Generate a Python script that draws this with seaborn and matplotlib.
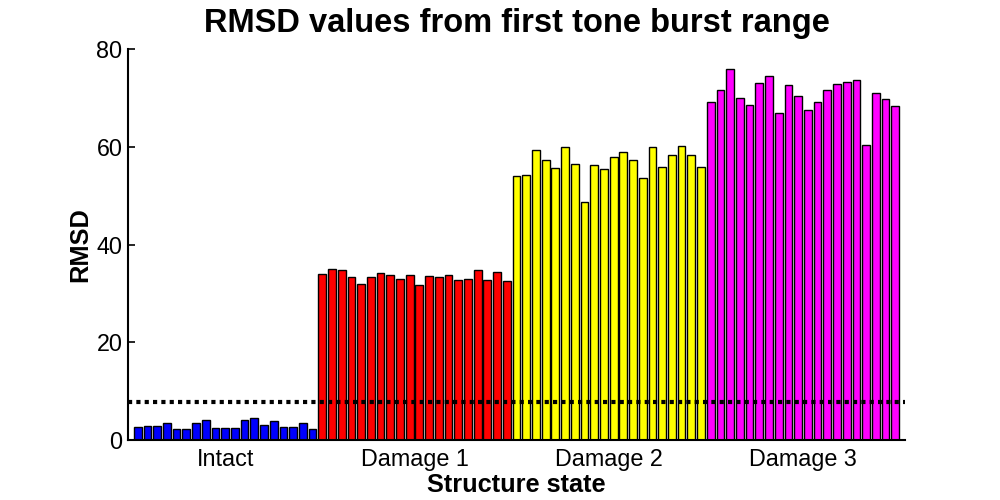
import numpy as np
import pandas as pd
import matplotlib
matplotlib.use("Agg")
import matplotlib.pyplot as plt
import seaborn as sns

# Data
intact = [2.6, 2.9, 2.9, 3.4, 2.2, 2.2, 3.4, 4.0, 2.4, 2.5, 2.4, 4.0, 4.4, 3.1, 3.8, 2.6, 2.6, 3.4, 2.2]
damage1 = [33.9, 34.9, 34.7, 33.3, 31.9, 33.3, 34.1, 33.7, 32.9, 33.7,
           31.7, 33.5, 33.3, 33.7, 32.7, 32.9, 34.7, 32.7, 34.3, 32.5]
damage2 = [54.0, 54.2, 59.3, 57.3, 55.6, 59.9, 56.5, 48.7, 56.3, 55.4,
           57.9, 58.9, 57.3, 53.7, 59.9, 55.8, 58.3, 60.2, 58.3, 55.8]
damage3 = [69.1, 71.6, 76.0, 69.9, 68.5, 73.0, 74.5, 67.0, 72.6, 70.3,
           67.5, 69.1, 71.6, 72.8, 73.2, 73.6, 60.3, 70.9, 69.7, 68.3]
group_names = ["Intact", "Damage 1", "Damage 2", "Damage 3"]
group_colors = ["#0000ff", "#ff0000", "#ffff00", "#ff00ff"]
threshold = 7.8

groups = [intact, damage1, damage2, damage3]
rows = []
idx = 1
for name, vals in zip(group_names, groups):
    for v in vals:
        rows.append({"pos": idx, "rmsd": v, "state": name})
        idx += 1
df = pd.DataFrame(rows)

sns.set_style("ticks", {"xtick.direction": "in", "ytick.direction": "in"})
plt.rcParams["font.family"] = ["Liberation Sans", "DejaVu Sans"]
plt.rcParams["text.color"] = "black"
plt.rcParams["axes.labelcolor"] = "black"
plt.rcParams["xtick.color"] = "black"
plt.rcParams["ytick.color"] = "black"

fig = plt.figure(figsize=(10, 5), dpi=100)
ax = fig.add_axes([0.128, 0.12, 0.777, 0.782])

sns.barplot(data=df, x="pos", y="rmsd", hue="state", palette=group_colors,
            hue_order=group_names, native_scale=True, dodge=False, width=0.8,
            saturation=1, edgecolor="black", linewidth=1.0, legend=False, ax=ax)

ax.axhline(threshold, color="black", linestyle=(0, (1, 1)), linewidth=3)

ax.set_xlim(0, 80)
ax.set_ylim(0, 80)
ax.set_yticks([0, 20, 40, 60, 80])

# group tick positions = centers of each group
centers = []
start = 1
for vals in groups:
    centers.append(start + (len(vals) - 1) / 2)
    start += len(vals)
ax.set_xticks(centers)
ax.set_xticklabels(group_names)

ax.tick_params(axis="x", length=0, labelsize=16.8, pad=6, colors="black")
ax.tick_params(axis="y", length=5, width=1.2, labelsize=16.8, pad=4, colors="black")

ax.set_xlabel("Structure state", fontsize=18.3, fontweight="bold", labelpad=1, color="black")
ax.set_ylabel("RMSD", fontsize=18.3, fontweight="bold", labelpad=3, color="black")
ax.set_title("RMSD values from first tone burst range", fontsize=23.5,
             fontweight="bold", pad=12, color="black")

sns.despine(ax=ax, top=True, right=True)
for s in ["left", "bottom"]:
    ax.spines[s].set_linewidth(1.5)
    ax.spines[s].set_color("black")

fig.savefig("out.png", dpi=100)
